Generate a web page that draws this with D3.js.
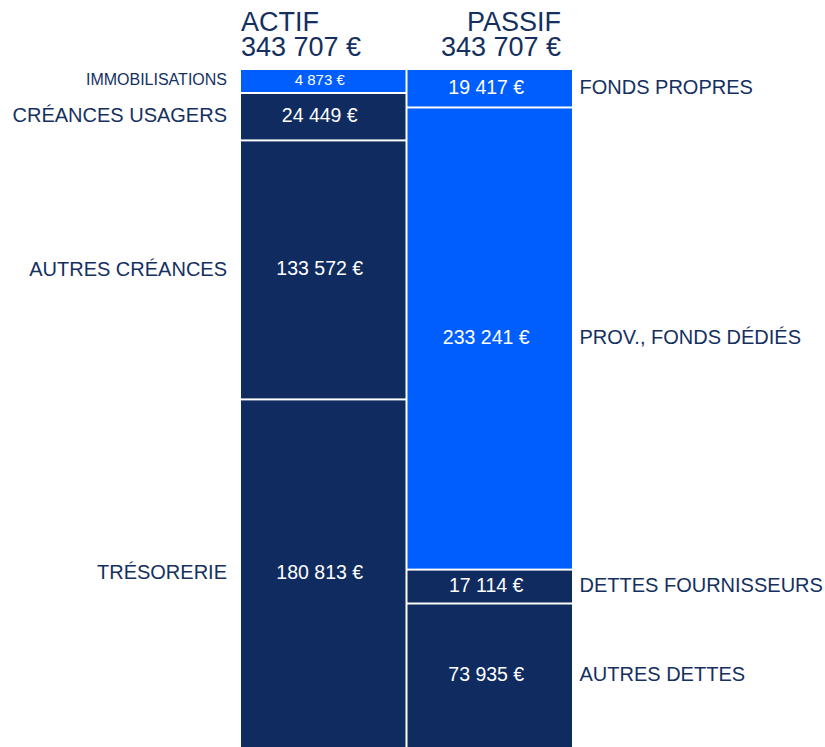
<!DOCTYPE html>
<html>
<head>
<meta charset="utf-8">
<script src="https://cdn.jsdelivr.net/npm/d3@7"></script>
<style>
  body { margin: 0; background: #fff; }
  svg { display: block; font-family: "Liberation Sans", Arial, sans-serif; }
</style>
</head>
<body>
<svg id="bilan" width="825" height="747"></svg>
<script>
// Bilan data
const sides = ["ACTIF", "PASSIF"];
const actifLabels = ["IMMOBILISATIONS", "CRÉANCES USAGERS", "AUTRES CRÉANCES", "TRÉSORERIE"];
const actifValues = [4873, 24449, 133572, 180813];
const actifGroups = ["stable", "circulant", "circulant", "circulant"];
const passifLabels = ["FONDS PROPRES", "PROV., FONDS DÉDIÉS", "DETTES FOURNISSEURS", "AUTRES DETTES"];
const passifValues = [19417, 233241, 17114, 73935];
const passifGroups = ["stable", "stable", "circulant", "circulant"];

const width = 825, height = 747;
const colTop = 70, colBottom = 751;   // column runs slightly past the bottom edge
const minBlock = 24;                  // smallest block height (incl. gap)
const gap = 2;

const navy = "#0f2b5f";
const textNavy = "#15305f";

const fr = d3.formatLocale({
    decimal: ",", thousands: "\u00a0", grouping: [3], currency: ["", "\u00a0€"]
});
const euro = fr.format("$,");

const svg = d3.select("#bilan");

const x = d3.scaleBand()
    .domain(sides)
    .range([241, 572])
    .paddingInner(0.012);

const color = d3.scaleOrdinal()
    .domain(["stable", "circulant"])
    .range(["#005eff", navy]);

// heights: small blocks get a minimum height, the rest share what's left
function stackHeights(values) {
    const H = colBottom - colTop;
    let fixed = new Set();
    let changed = true;
    let scale;
    while (changed) {
        changed = false;
        const free = d3.sum(values.filter((v, i) => !fixed.has(i)));
        scale = d3.scaleLinear().domain([0, free]).range([0, H - fixed.size * minBlock]);
        values.forEach((v, i) => {
            if (!fixed.has(i) && scale(v) < minBlock) { fixed.add(i); changed = true; }
        });
    }
    const hs = values.map((v, i) => fixed.has(i) ? minBlock : scale(v));
    let y = colTop;
    return hs.map(h => { const b = { y0: y, h: h }; y += h; return b; });
}

function drawSide(side, labels, values, groups, labelSide) {
    const blocks = stackHeights(values).map((b, i) => ({
        ...b, label: labels[i], value: values[i], group: groups[i]
    }));
    const g = svg.append("g").attr("class", side.toLowerCase());

    g.selectAll("rect")
        .data(blocks)
        .join("rect")
        .attr("x", x(side))
        .attr("y", d => d.y0)
        .attr("width", x.bandwidth())
        .attr("height", d => d.h - gap)
        .attr("fill", d => color(d.group));

    const cy = d => Math.min(d.y0 + (d.h - gap) / 2, (d.y0 + height) / 2) - 1.5;
    const small = d => d.h < 30;

    g.selectAll("text.value")
        .data(blocks)
        .join("text")
        .attr("class", "value")
        .attr("x", x(side) + x.bandwidth() / 2 - 3.5)
        .attr("y", d => cy(d) + (small(d) ? 5 : 7))
        .attr("text-anchor", "middle")
        .attr("fill", "#fff")
        .style("font-size", d => small(d) ? "15px" : "19.5px")
        .text(d => euro(d.value));

    g.selectAll("text.label")
        .data(blocks)
        .join("text")
        .attr("class", "label")
        .attr("x", labelSide === "left" ? x(side) - 14 : x(side) + x.bandwidth() + 7.5)
        .attr("y", d => cy(d) + (small(d) ? 5.5 : 7.2))
        .attr("text-anchor", labelSide === "left" ? "end" : "start")
        .attr("fill", textNavy)
        .style("font-size", d => small(d) ? "16px" : "20px")
        .text(d => d.label);

    // header
    const total = d3.sum(values);
    const hx = side === "ACTIF" ? x(side) : x(side) + x.bandwidth() - 11;
    const anchor = side === "ACTIF" ? "start" : "end";
    svg.append("text")
        .attr("x", hx).attr("y", 31)
        .attr("text-anchor", anchor)
        .attr("fill", textNavy)
        .style("font-size", "27px")
        .text(side);
    svg.append("text")
        .attr("x", hx).attr("y", 55.5)
        .attr("text-anchor", anchor)
        .attr("fill", textNavy)
        .style("font-size", "27px")
        .text(euro(total));
}

drawSide("ACTIF", actifLabels, actifValues, actifGroups, "left");
drawSide("PASSIF", passifLabels, passifValues, passifGroups, "right");
</script>
</body>
</html>
